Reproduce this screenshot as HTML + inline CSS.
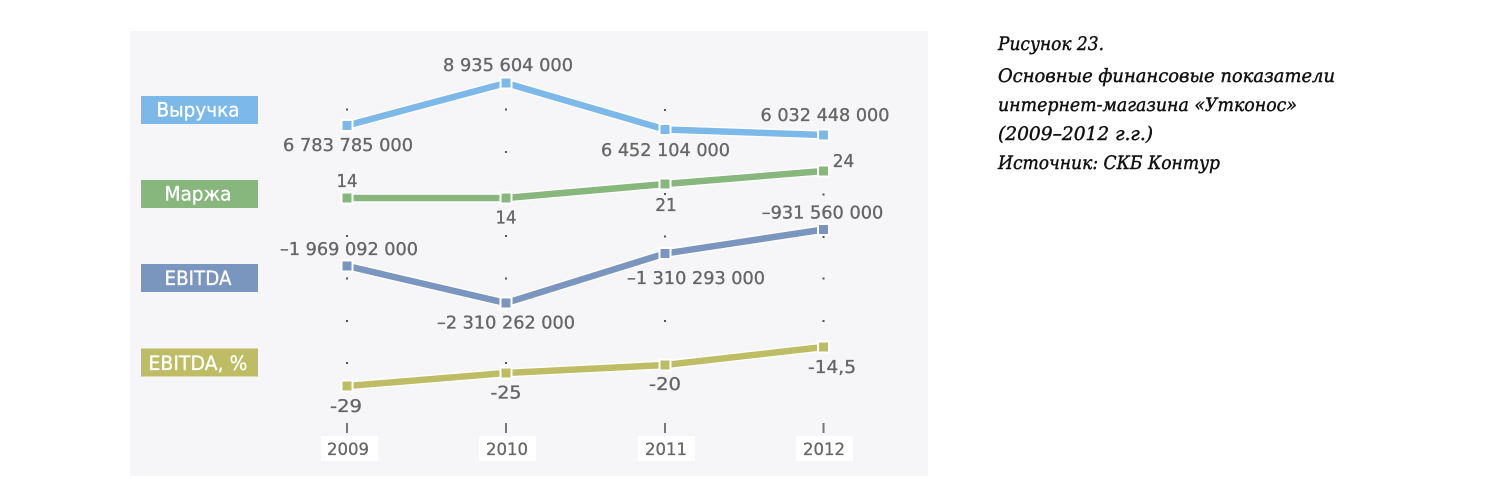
<!DOCTYPE html>
<html>
<head>
<meta charset="utf-8">
<style>
  html, body { margin:0; padding:0; background:#ffffff; }
  body { width:1500px; height:500px; overflow:hidden; }
  svg { display:block; }
  .dl { font-family:"DejaVu Sans","Liberation Sans",sans-serif; font-size:18px; fill:#666666; stroke:#666666; stroke-width:0.35; }
  .yr { font-family:"DejaVu Sans","Liberation Sans",sans-serif; font-size:16.5px; fill:#666666; stroke:#666666; stroke-width:0.3; }
  .lg { font-family:"DejaVu Sans","Liberation Sans",sans-serif; font-size:19.5px; fill:#ffffff; stroke:#ffffff; stroke-width:0.3; }
  .tt { font-family:"DejaVu Serif","Liberation Serif",serif; font-style:italic; font-size:18.5px; fill:#111111; stroke:#111111; stroke-width:0.45; }
</style>
</head>
<body>
<svg width="1500" height="500" viewBox="0 0 1500 500" xmlns="http://www.w3.org/2000/svg">
  <rect x="0" y="0" width="1500" height="500" fill="#ffffff"/>
  <!-- panel -->
  <rect x="130" y="31" width="798" height="445" fill="#f6f6f8"/>

  <!-- grid dots -->
  <g fill="#555555">
    <rect x="346" y="108.5" width="2" height="2"/>
    <rect x="346" y="235" width="2" height="2"/>
    <rect x="346" y="277.5" width="2" height="2"/>
    <rect x="346" y="320" width="2" height="2"/>
    <rect x="346" y="362" width="2" height="2"/>

    <rect x="505" y="108.5" width="2" height="2"/>
    <rect x="505" y="151" width="2" height="2"/>
    <rect x="505" y="235" width="2" height="2"/>
    <rect x="505" y="277.5" width="2" height="2"/>
    <rect x="505" y="362" width="2" height="2"/>

    <rect x="664" y="109" width="2" height="2"/>
    <rect x="664" y="193" width="2" height="2"/>
    <rect x="664" y="235.5" width="2" height="2"/>
    <rect x="664" y="320" width="2" height="2"/>

    <rect x="822.5" y="193.5" width="2" height="2"/>
    <rect x="822.5" y="236" width="2" height="2"/>
    <rect x="822.5" y="277.5" width="2" height="2"/>
    <rect x="822.5" y="320" width="2" height="2"/>
  </g>

  <!-- legend boxes -->
  <rect x="141" y="96" width="117" height="28" fill="#7cb9e8"/>
  <text class="lg" x="198" y="116.5" text-anchor="middle" textLength="83" lengthAdjust="spacingAndGlyphs">Выручка</text>
  <rect x="141" y="180" width="117" height="28" fill="#87b77c"/>
  <text class="lg" x="198" y="200.5" text-anchor="middle" textLength="67" lengthAdjust="spacingAndGlyphs">Маржа</text>
  <rect x="141" y="264" width="117" height="28" fill="#7a96bf"/>
  <text class="lg" x="198" y="285" text-anchor="middle" textLength="67" lengthAdjust="spacingAndGlyphs">EBITDA</text>
  <rect x="141" y="348.5" width="117" height="28" fill="#bebc64"/>
  <text class="lg" x="198" y="370" text-anchor="middle" textLength="99" lengthAdjust="spacingAndGlyphs">EBITDA, %</text>

  <!-- series lines: white halo then color -->
  <g fill="none" stroke-linejoin="miter" stroke-linecap="butt">
    <polyline points="347,125.5 506,83 665,129.5 823.5,135" stroke="#ffffff" stroke-width="9"/>
    <polyline points="347,125.5 506,83 665,129.5 823.5,135" stroke="#7cb9e8" stroke-width="6.5"/>
    <polyline points="347,198 506,198 665,184 823.5,171" stroke="#ffffff" stroke-width="9"/>
    <polyline points="347,198 506,198 665,184 823.5,171" stroke="#87b77c" stroke-width="6.5"/>
    <polyline points="347,266 506,303 665,253.5 823.5,229.5" stroke="#ffffff" stroke-width="9"/>
    <polyline points="347,266 506,303 665,253.5 823.5,229.5" stroke="#7a96bf" stroke-width="6.5"/>
    <polyline points="347,386 506,373 665,365 823.5,347" stroke="#ffffff" stroke-width="9"/>
    <polyline points="347,386 506,373 665,365 823.5,347" stroke="#bebc64" stroke-width="6.5"/>
  </g>

  <!-- markers -->
  <g stroke="#ffffff" stroke-width="2">
    <rect x="341.5" y="120" width="11" height="11" fill="#7cb9e8"/>
    <rect x="500.5" y="77.5" width="11" height="11" fill="#7cb9e8"/>
    <rect x="659.5" y="124" width="11" height="11" fill="#7cb9e8"/>
    <rect x="818" y="129.5" width="11" height="11" fill="#7cb9e8"/>

    <rect x="341.5" y="192.5" width="11" height="11" fill="#87b77c"/>
    <rect x="500.5" y="192.5" width="11" height="11" fill="#87b77c"/>
    <rect x="659.5" y="178.5" width="11" height="11" fill="#87b77c"/>
    <rect x="818" y="165.5" width="11" height="11" fill="#87b77c"/>

    <rect x="341.5" y="260.5" width="11" height="11" fill="#7a96bf"/>
    <rect x="500.5" y="297.5" width="11" height="11" fill="#7a96bf"/>
    <rect x="659.5" y="248" width="11" height="11" fill="#7a96bf"/>
    <rect x="818" y="224" width="11" height="11" fill="#7a96bf"/>

    <rect x="341.5" y="380.5" width="11" height="11" fill="#bebc64"/>
    <rect x="500.5" y="367.5" width="11" height="11" fill="#bebc64"/>
    <rect x="659.5" y="359.5" width="11" height="11" fill="#bebc64"/>
    <rect x="818" y="341.5" width="11" height="11" fill="#bebc64"/>
  </g>

  <!-- data labels -->
  <g class="dl" text-anchor="middle">
    <text x="508" y="71" textLength="130" lengthAdjust="spacingAndGlyphs">8 935 604 000</text>
    <text x="348" y="151" textLength="130" lengthAdjust="spacingAndGlyphs">6 783 785 000</text>
    <text x="665.5" y="156" textLength="129" lengthAdjust="spacingAndGlyphs">6 452 104 000</text>
    <text x="825" y="121" textLength="129" lengthAdjust="spacingAndGlyphs">6 032 448 000</text>

    <text x="347" y="187" textLength="21" lengthAdjust="spacingAndGlyphs">14</text>
    <text x="506" y="223.5" textLength="21" lengthAdjust="spacingAndGlyphs">14</text>
    <text x="666" y="211" textLength="21.5" lengthAdjust="spacingAndGlyphs">21</text>
    <text x="843.5" y="167" textLength="21.5" lengthAdjust="spacingAndGlyphs">24</text>

    <text x="349" y="255" textLength="138" lengthAdjust="spacingAndGlyphs">–1 969 092 000</text>
    <text x="506" y="328.5" textLength="138" lengthAdjust="spacingAndGlyphs">–2 310 262 000</text>
    <text x="696" y="284" textLength="138" lengthAdjust="spacingAndGlyphs">–1 310 293 000</text>
    <text x="822.5" y="218.5" textLength="121.5" lengthAdjust="spacingAndGlyphs">–931 560 000</text>

    <text x="346" y="412" textLength="32" lengthAdjust="spacingAndGlyphs">-29</text>
    <text x="506" y="398.5" textLength="31" lengthAdjust="spacingAndGlyphs">-25</text>
    <text x="665" y="390" textLength="32" lengthAdjust="spacingAndGlyphs">-20</text>
    <text x="832" y="373" textLength="48" lengthAdjust="spacingAndGlyphs">-14,5</text>
  </g>

  <!-- x axis ticks -->
  <g fill="#777777">
    <rect x="346" y="423" width="2" height="10"/>
    <rect x="505" y="423" width="2" height="10"/>
    <rect x="664" y="423" width="2" height="10"/>
    <rect x="822.5" y="423" width="2" height="10"/>
  </g>
  <!-- year label boxes -->
  <g fill="#ffffff">
    <rect x="321" y="436" width="57" height="25"/>
    <rect x="479" y="436" width="57" height="25"/>
    <rect x="638" y="436" width="57" height="25"/>
    <rect x="796" y="436" width="57" height="25"/>
  </g>
  <g class="yr" text-anchor="middle">
    <text x="348" y="455" textLength="42" lengthAdjust="spacingAndGlyphs">2009</text>
    <text x="507" y="455" textLength="42" lengthAdjust="spacingAndGlyphs">2010</text>
    <text x="666" y="455" textLength="42" lengthAdjust="spacingAndGlyphs">2011</text>
    <text x="824" y="455" textLength="42" lengthAdjust="spacingAndGlyphs">2012</text>
  </g>

  <!-- caption -->
  <g class="tt">
    <text x="998" y="50" textLength="106" lengthAdjust="spacingAndGlyphs">Рисунок 23.</text>
    <text x="998" y="82" textLength="337" lengthAdjust="spacingAndGlyphs">Основные финансовые показатели</text>
    <text x="998" y="111" textLength="299" lengthAdjust="spacingAndGlyphs">интернет-магазина «Утконос»</text>
    <text x="998" y="140" textLength="155" lengthAdjust="spacingAndGlyphs">(2009–2012 г.г.)</text>
    <text x="998" y="169" textLength="222" lengthAdjust="spacingAndGlyphs">Источник: СКБ Контур</text>
  </g>
</svg>
</body>
</html>
